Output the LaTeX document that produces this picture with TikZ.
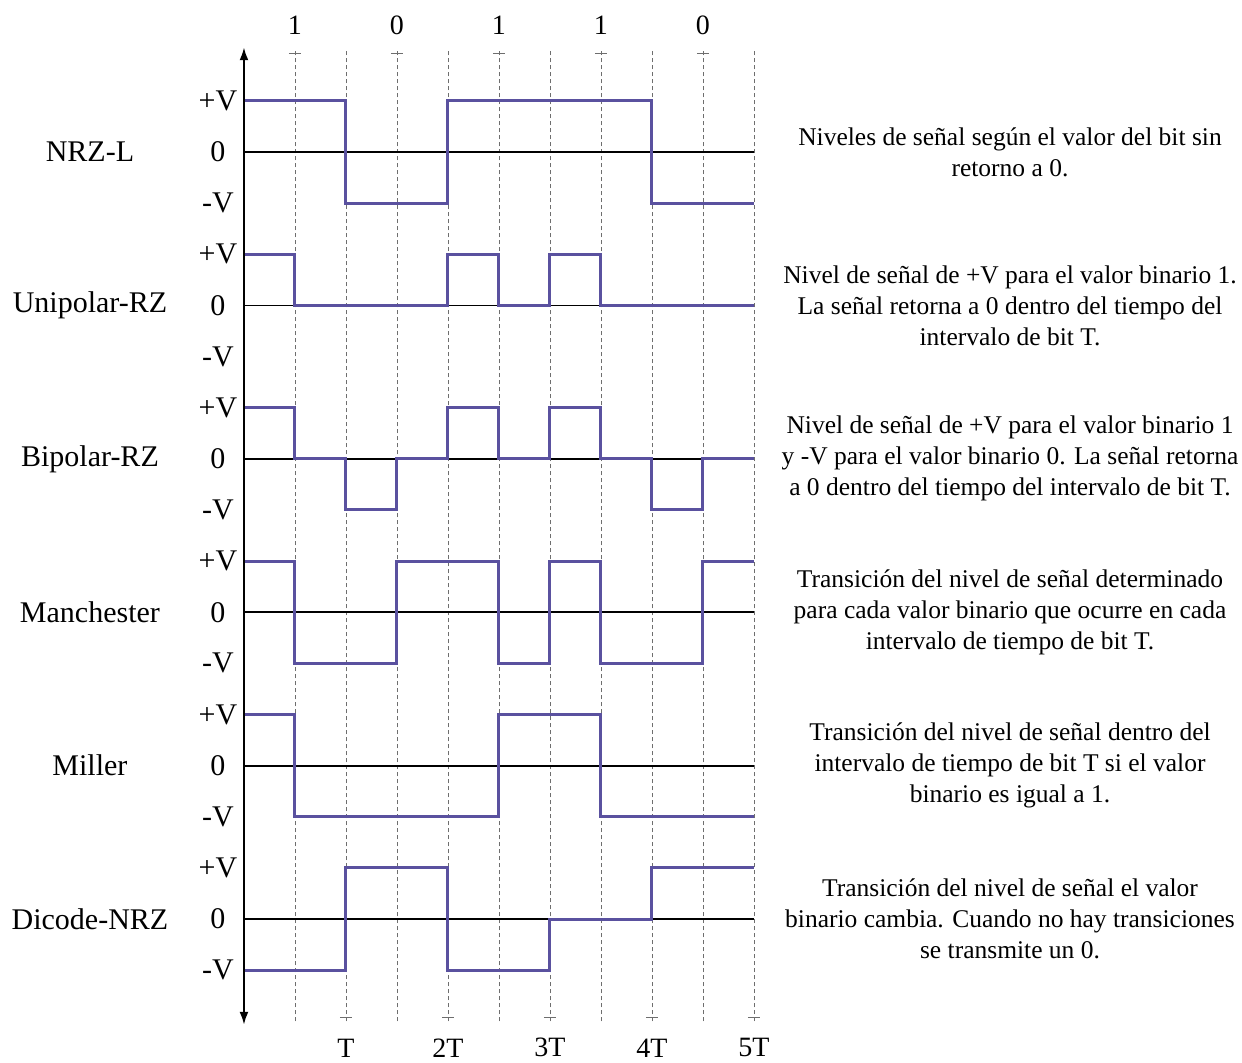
\documentclass[tikz,border=0pt]{standalone}
\usepackage{fontspec}
\setmainfont{Liberation Serif}
\usetikzlibrary{arrows.meta}
\definecolor{signal}{HTML}{5A519F}
\definecolor{gridgray}{HTML}{6E6E6E}

\begin{document}
\begin{tikzpicture}[x=51pt, y=51.13pt,
    every node/.style={font=\fontsize{30}{36}\selectfont},
    sig/.style={signal, line width=3pt},
    zeroline/.style={black, line width=1.8pt},
    gridline/.style={gridgray, dashed, dash pattern=on 4pt off 3pt, line width=0.8pt},
    tick/.style={gridgray, line width=1pt},
    desc/.style={font=\fontsize{25.5}{31}\selectfont, align=center}]
    \useasboundingbox (-4.784,-2.797) rectangle (19.569,17.974);

    % grid and ticks
    \foreach \x in {1,...,10} {
      \draw[gridline] (\x,-2.0) -- (\x,17.0);
    }
    \foreach \x/\b in {1/1,3/0,5/1,7/1,9/0} {
      \draw[tick] (\x-0.12,16.92) -- (\x+0.12,16.92);
      \node (bit\x) at (\x,17.48) {\fontsize{28}{34}\selectfont \b};
    }
    \foreach \x/\t in {2/T,4/2T,6/3T,8/4T,10/5T} {
      \draw[tick] (\x-0.12,-1.92) -- (\x+0.12,-1.92);
      \node (time\x) at (\x,-2.52) {\fontsize{28}{34}\selectfont \t};
    }

    % rows
    \foreach \name [count=\r from 0] in {NRZ-L,Unipolar-RZ,Bipolar-RZ,Manchester,Miller,Dicode-NRZ} {
      \pgfmathtruncatemacro{\z}{15-3*\r}
      \draw[zeroline] (0,\z) -- (10,\z);
      \node (name\r) at (-3.02,\z) {\name};
      \node (pv\r) at (-0.51,\z+1) {+V};
      \node (zr\r) at (-0.51,\z) {0};
      \node (mv\r) at (-0.51,\z-1) {-V};
    }

    % signals
    \draw[sig] (0,16) -- (2,16) |- (4,14) |- (8,16) |- (10,14);
    \draw[sig] (0,13) -- (1,13) |- (4,12) |- (5,13) |- (6,12) |- (7,13) |- (10,12);
    \draw[sig] (0,10) -- (1,10) |- (2,9) |- (3,8) |- (4,9) |- (5,10) |- (6,9) |- (7,10) |- (8,9) |- (9,8) |- (10,9);
    \draw[sig] (0,7) -- (1,7) |- (3,5) |- (5,7) |- (6,5) |- (7,7) |- (9,5) |- (10,7);
    \draw[sig] (0,4) -- (1,4) |- (5,2) |- (7,4) |- (10,2);
    \draw[sig] (0,-1) -- (2,-1) |- (4,1) |- (6,-1) |- (8,0) |- (10,1);

    % axis
    \draw[black, line width=2.2pt, {Latex[length=13pt,width=9pt]}-{Latex[length=13pt,width=9pt]}] (0,-2.07) -- (0,17.05);

    % descriptions
    \node[desc] (d0) at (15.02,15) {Niveles de señal según el valor del bit sin\\retorno a 0.};
    \node[desc] (d1) at (15.02,12) {Nivel de señal de +V para el valor binario 1.\\La señal retorna a 0 dentro del tiempo del\\intervalo de bit T.};
    \node[desc] (d2) at (15.02,9) {Nivel de señal de +V para el valor binario 1\\y -V para el valor binario 0. La señal retorna\\a 0 dentro del tiempo del intervalo de bit T.};
    \node[desc] (d3) at (15.02,6) {Transición del nivel de señal determinado\\para cada valor binario que ocurre en cada\\intervalo de tiempo de bit T.};
    \node[desc] (d4) at (15.02,3) {Transición del nivel de señal dentro del\\intervalo de tiempo de bit T si el valor\\binario es igual a 1.};
    \node[desc] (d5) at (15.02,0) {Transición del nivel de señal el valor\\binario cambia. Cuando no hay transiciones\\se transmite un 0.};
  \end{tikzpicture}
\end{document}
